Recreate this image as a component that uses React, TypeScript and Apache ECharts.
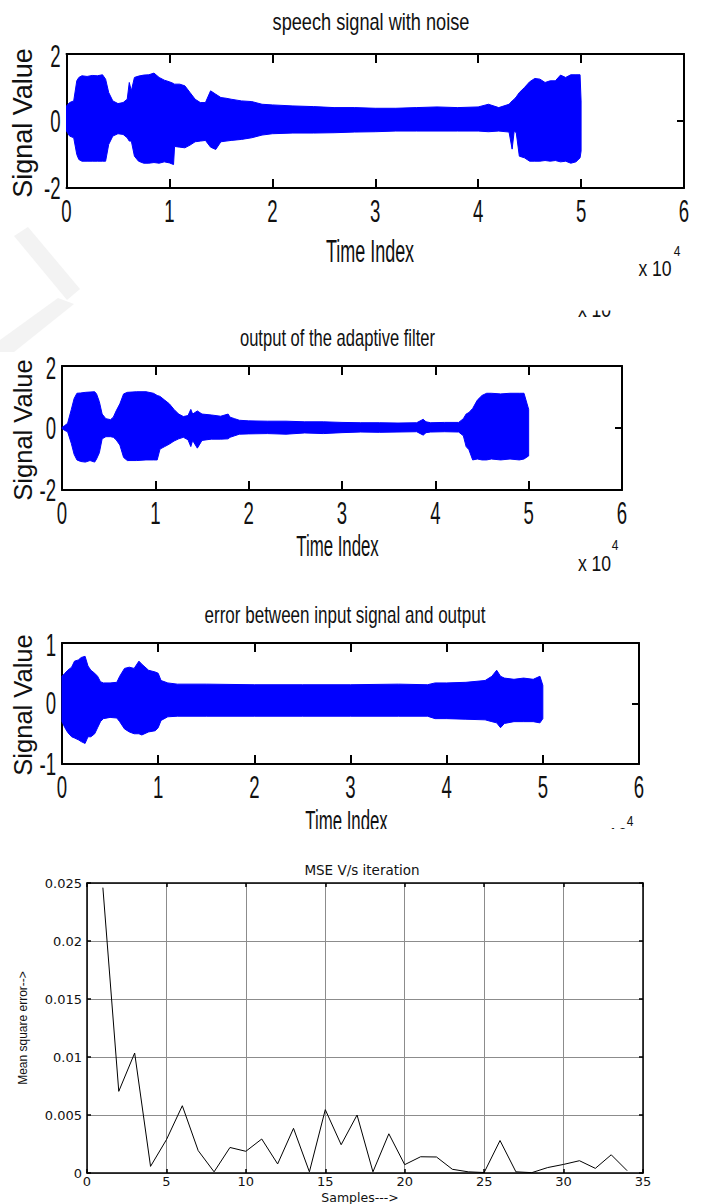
import React, { useEffect, useRef } from 'react';
import * as echarts from 'echarts';

// ---------- data (x in units of 10^4 samples) ----------
const NOISY_X = [0, 0.03, 0.07, 0.1, 0.12, 0.15, 0.2, 0.25, 0.3, 0.35, 0.38, 0.41, 0.45, 0.5, 0.55, 0.59, 0.61, 0.63, 0.66, 0.7, 0.75, 0.8, 0.85, 0.9, 0.95, 1.0, 1.04, 1.05, 1.1, 1.15, 1.2, 1.25, 1.3, 1.35, 1.4, 1.45, 1.5, 1.55, 1.6, 1.7, 1.8, 1.9, 2.0, 2.2, 2.4, 2.6, 2.8, 3.0, 3.2, 3.4, 3.6, 3.8, 4.0, 4.1, 4.2, 4.3, 4.33, 4.35, 4.37, 4.4, 4.45, 4.5, 4.55, 4.6, 4.65, 4.7, 4.75, 4.8, 4.85, 4.9, 4.95, 4.99, 5.0];
const NOISY_UP = [0.45, 0.55, 0.6, 1.2, 1.3, 1.35, 1.33, 1.36, 1.35, 1.38, 1.25, 0.85, 0.6, 0.52, 0.55, 0.65, 1.15, 0.9, 1.3, 1.34, 1.37, 1.38, 1.43, 1.3, 1.22, 1.17, 1.12, 1.1, 1.1, 1.05, 0.85, 0.65, 0.55, 0.55, 0.9, 0.8, 0.7, 0.68, 0.65, 0.6, 0.58, 0.5, 0.48, 0.45, 0.43, 0.4, 0.4, 0.38, 0.38, 0.4, 0.42, 0.4, 0.42, 0.5, 0.4, 0.5, 0.6, 0.65, 0.72, 0.85, 1.0, 1.17, 1.27, 1.25, 1.15, 1.2, 1.2, 1.37, 1.3, 1.38, 1.38, 1.38, 0.6];
const NOISY_LO = [-0.3, -0.45, -0.5, -1.0, -1.15, -1.2, -1.2, -1.2, -1.2, -1.2, -1.2, -0.7, -0.45, -0.38, -0.4, -0.5, -0.6, -0.6, -1.05, -1.2, -1.26, -1.26, -1.24, -1.26, -1.22, -1.25, -1.3, -0.76, -0.78, -0.8, -0.72, -0.62, -0.6, -0.58, -0.78, -0.85, -0.62, -0.6, -0.58, -0.55, -0.5, -0.42, -0.38, -0.36, -0.36, -0.35, -0.33, -0.32, -0.3, -0.3, -0.3, -0.3, -0.3, -0.32, -0.3, -0.33, -0.84, -0.3, -0.35, -1.05, -1.1, -1.2, -1.2, -1.2, -1.18, -1.2, -1.18, -1.22, -1.2, -1.26, -1.22, -1.1, -0.9];

const OUT_X = [0, 0.03, 0.06, 0.1, 0.13, 0.16, 0.2, 0.25, 0.3, 0.35, 0.37, 0.4, 0.43, 0.47, 0.52, 0.55, 0.58, 0.62, 0.66, 0.7, 0.8, 0.9, 0.98, 1.02, 1.05, 1.1, 1.15, 1.2, 1.25, 1.3, 1.35, 1.38, 1.4, 1.45, 1.5, 1.6, 1.7, 1.78, 1.8, 1.85, 1.9, 2.0, 2.2, 2.4, 2.6, 2.8, 3.0, 3.2, 3.4, 3.6, 3.8, 3.87, 3.9, 3.95, 4.1, 4.25, 4.3, 4.33, 4.36, 4.4, 4.45, 4.5, 4.55, 4.6, 4.7, 4.8, 4.9, 4.95, 5.0];
const OUT_UP = [0.02, 0.08, 0.15, 0.6, 0.95, 1.12, 1.13, 1.15, 1.16, 1.17, 1.1, 0.85, 0.45, 0.3, 0.27, 0.35, 0.55, 0.78, 1.1, 1.15, 1.17, 1.17, 1.12, 1.05, 1.02, 0.9, 0.78, 0.6, 0.45, 0.37, 0.4, 0.6, 0.45, 0.55, 0.45, 0.42, 0.38, 0.45, 0.35, 0.3, 0.25, 0.23, 0.22, 0.22, 0.2, 0.2, 0.18, 0.17, 0.17, 0.16, 0.17, 0.28, 0.2, 0.17, 0.18, 0.18, 0.3, 0.45, 0.5, 0.63, 0.9, 1.05, 1.12, 1.12, 1.1, 1.12, 1.12, 1.12, 0.6];
const OUT_LO = [-0.02, -0.08, -0.12, -0.5, -0.85, -1.03, -1.08, -1.1, -1.05, -1.1, -1.0, -0.8, -0.35, -0.28, -0.28, -0.3, -0.38, -0.55, -0.95, -1.05, -1.05, -1.03, -1.03, -1.03, -0.68, -0.6, -0.52, -0.42, -0.35, -0.3, -0.38, -0.6, -0.4, -0.65, -0.4, -0.36, -0.36, -0.35, -0.3, -0.25, -0.2, -0.19, -0.18, -0.2, -0.16, -0.18, -0.15, -0.13, -0.14, -0.13, -0.12, -0.23, -0.15, -0.13, -0.12, -0.13, -0.25, -0.6, -0.7, -1.03, -1.0, -1.03, -1.03, -1.0, -1.03, -1.0, -1.03, -1.0, -0.9];

const ERR_X = [0, 0.03, 0.06, 0.1, 0.13, 0.17, 0.2, 0.24, 0.27, 0.3, 0.34, 0.37, 0.4, 0.43, 0.5, 0.57, 0.6, 0.65, 0.7, 0.75, 0.8, 0.83, 0.9, 0.97, 1.0, 1.03, 1.1, 1.2, 1.5, 2.0, 2.5, 3.0, 3.5, 3.8, 3.88, 4.0, 4.2, 4.4, 4.47, 4.52, 4.56, 4.6, 4.7, 4.8, 4.9, 4.97, 5.0];
const ERR_UP = [0.45, 0.5, 0.55, 0.6, 0.7, 0.72, 0.76, 0.78, 0.62, 0.55, 0.5, 0.45, 0.36, 0.34, 0.34, 0.35, 0.45, 0.58, 0.6, 0.58, 0.7, 0.65, 0.55, 0.52, 0.5, 0.38, 0.34, 0.32, 0.32, 0.31, 0.31, 0.31, 0.32, 0.31, 0.34, 0.34, 0.35, 0.38, 0.45, 0.55, 0.45, 0.42, 0.4, 0.42, 0.4, 0.45, 0.3];
const ERR_LO = [-0.3, -0.4, -0.48, -0.55, -0.57, -0.6, -0.63, -0.66, -0.55, -0.55, -0.5, -0.4, -0.3, -0.25, -0.23, -0.24, -0.3, -0.42, -0.47, -0.5, -0.5, -0.52, -0.47, -0.45, -0.4, -0.28, -0.22, -0.21, -0.21, -0.21, -0.21, -0.21, -0.21, -0.21, -0.25, -0.25, -0.26, -0.27, -0.3, -0.32, -0.4, -0.33, -0.3, -0.3, -0.3, -0.32, -0.25];

const MSE_ITER = [1, 2, 3, 4, 5, 6, 7, 8, 9, 10, 11, 12, 13, 14, 15, 16, 17, 18, 19, 20, 21, 22, 23, 24, 25, 26, 27, 28, 29, 30, 31, 32, 33, 34];
const MSE_VALUES = [0.0246, 0.00704, 0.01034, 0.00057, 0.00287, 0.0058, 0.00193, 0.0001, 0.0022, 0.00187, 0.00293, 0.00078, 0.00385, 0.0001, 0.00546, 0.00244, 0.005, 0.0001, 0.00338, 0.00072, 0.0014, 0.00138, 0.00032, 0.0001, 0.00004, 0.0028, 0.0001, 0.00003, 0.00047, 0.00074, 0.00106, 0.0004, 0.00157, 0.0002];

// tick labels of the three signal panels
const SIGNAL_X_TICKS = [0, 1, 2, 3, 4, 5, 6];
const SIGNAL_Y_TICKS = [-2, 0, 2];
const ERROR_Y_TICKS = [-1, 0, 1];

const SIGNAL_X_RANGE = [0, 6, 1];
const SIGNAL_Y_RANGE = [-2, 2, 2];
const ERROR_Y_RANGE = [-1, 1, 1];
const MSE_X_RANGE = [0, 35, 5];
const MSE_Y_RANGE = [0, 0.025, 0.005];

const TITLES = ['speech signal with noise', 'output of the adaptive filter', 'error between input signal and output', 'MSE V/s iteration'];

// ---------- helpers ----------
const SANS = "'Liberation Sans', Arial, sans-serif";
const DEJAVU = "'DejaVu Sans', sans-serif";

function band(xs: number[], up: number[], lo: number[]) {
  return (_params: any, api: any) => {
    const pts: number[][] = [];
    for (let i = 0; i < xs.length; i++) pts.push(api.coord([xs[i], up[i]]));
    for (let i = xs.length - 1; i >= 0; i--) pts.push(api.coord([xs[i], lo[i]]));
    return {
      type: 'polygon',
      shape: { points: pts },
      style: { fill: '#0000ff', stroke: '#0000ff', lineWidth: 1 },
    };
  };
}

function axesFor(g: number, xr: number[], yr: number[], o: any) {
  const line = { show: true, onZero: false, lineStyle: { color: '#000', width: o.lineW } };
  const tick = (len: number) => ({ show: true, inside: true, length: len, lineStyle: { color: '#000', width: o.lineW } });
  const split = { show: o.split, lineStyle: { color: '#8c8c8c', width: 1 } };
  const xBase = { type: 'value', gridIndex: g, min: xr[0], max: xr[1], interval: xr[2], axisLine: line };
  const yBase = { type: 'value', gridIndex: g, min: yr[0], max: yr[1], interval: yr[2], axisLine: line };
  return {
    x: [
      { ...xBase, position: 'bottom', axisTick: tick(o.xTick), axisLabel: o.label ? { ...o.label, margin: o.xMargin } : { show: false }, splitLine: split },
      { ...xBase, position: 'top', axisTick: tick(o.xTick), axisLabel: { show: false }, splitLine: { show: false } },
    ],
    y: [
      { ...yBase, position: 'left', axisTick: tick(o.yTick), axisLabel: o.label ? { ...o.label, margin: o.yMargin } : { show: false }, splitLine: split },
      { ...yBase, position: 'right', axisTick: tick(o.yTick), axisLabel: { show: false }, splitLine: { show: false } },
    ],
  };
}

function txt(text: string, x: number, y: number, size: number, family: string, extra: any = {}, align = 'center') {
  return {
    type: 'text',
    x,
    y,
    z: 50,
    ...extra,
    style: {
      text,
      fontSize: size,
      fontFamily: family,
      fill: '#111',
      align,
      verticalAlign: 'middle',
      textAlign: align,
      textVerticalAlign: 'middle',
    },
  };
}

export default function App() {
  const ref = useRef<HTMLDivElement>(null);
  useEffect(() => {
    if (!ref.current) return;
    const chart = echarts.init(ref.current, null, { renderer: 'svg' });

    const topOpts = { lineW: 2, split: false, xTick: 9, yTick: 7, label: null };
    const a1 = axesFor(0, SIGNAL_X_RANGE, SIGNAL_Y_RANGE, topOpts);
    const a2 = axesFor(1, SIGNAL_X_RANGE, SIGNAL_Y_RANGE, topOpts);
    const a3 = axesFor(2, SIGNAL_X_RANGE, ERROR_Y_RANGE, topOpts);
    const a4 = axesFor(3, MSE_X_RANGE, MSE_Y_RANGE, {
      lineW: 1.5,
      split: true,
      xTick: 4,
      yTick: 4,
      xMargin: 2,
      yMargin: 5,
      label: { fontFamily: DEJAVU, fontSize: 13, color: '#111' },
    });

    const R = Math.PI / 2;
    const graphics: any[] = [
      // faint watermark
      { type: 'polygon', z: 1, shape: { points: [[14, 236], [28, 227], [80, 289], [67, 300]] }, style: { fill: '#f3f3f3' } },
      { type: 'polygon', z: 1, shape: { points: [[58, 298], [74, 304], [14, 352], [0, 352], [0, 340]] }, style: { fill: '#f3f3f3' } },
      // titles
      txt(TITLES[0], 371, 22, 23, SANS, { scaleX: 0.79 }),
      txt(TITLES[1], 337.5, 338, 23, SANS, { scaleX: 0.72 }),
      txt(TITLES[2], 345, 615, 23, SANS, { scaleX: 0.74 }),
      txt(TITLES[3], 362, 870, 13.5, DEJAVU),
      // x axis names
      txt('Time Index', 370, 251, 31, SANS, { scaleX: 0.58 }),
      txt('Time Index', 337.5, 546, 30, SANS, { scaleX: 0.56 }),
      txt('Time Index', 346.5, 821, 30, SANS, { scaleX: 0.56 }),
      txt('Samples--->', 360, 1197, 12.5, DEJAVU),
      // y axis names
      txt('Signal Value', 23, 123, 27, SANS, { rotation: R }),
      txt('Signal Value', 23, 430, 25.5, SANS, { rotation: R }),
      txt('Signal Value', 23, 705, 25.5, SANS, { rotation: R }),
      txt('Mean square error-->', 23, 1028, 12, SANS, { rotation: R }),
      // exponents
      txt('x 10', 655, 268, 22, SANS, { scaleX: 0.8 }),
      txt('4', 677, 251, 15, SANS, { scaleX: 0.8 }),
      txt('x 10', 594.5, 563, 22, SANS, { scaleX: 0.8 }),
      txt('4', 615, 545, 15, SANS, { scaleX: 0.8 }),
      txt('x 10', 594.5, 309, 22, SANS, { scaleX: 0.8 }),
      txt('x 10', 611, 835, 22, SANS, { scaleX: 0.8 }),
      txt('4', 630, 821, 15, SANS, { scaleX: 0.8 }),
      // clipping masks (the source image is cropped there)
      { type: 'rect', z: 90, shape: { x: 560, y: 290, width: 80, height: 20.5 }, style: { fill: '#fff' } },
      { type: 'rect', z: 90, shape: { x: 0, y: 829, width: 704, height: 22 }, style: { fill: '#fff' } },
    ];

    chart.setOption({
      animation: false,
      backgroundColor: '#fff',
      grid: [
        { left: 66.5, top: 54, width: 617.5, height: 134 },
        { left: 62, top: 366, width: 560, height: 124 },
        { left: 62, top: 643, width: 577, height: 121 },
        { left: 87, top: 883, width: 556, height: 290 },
      ],
      xAxis: [...a1.x, ...a2.x, ...a3.x, ...a4.x],
      yAxis: [...a1.y, ...a2.y, ...a3.y, ...a4.y],
      series: [
        { type: 'custom', xAxisIndex: 0, yAxisIndex: 0, renderItem: band(NOISY_X, NOISY_UP, NOISY_LO), data: [[0, 0]], silent: true },
        { type: 'custom', xAxisIndex: 2, yAxisIndex: 2, renderItem: band(OUT_X, OUT_UP, OUT_LO), data: [[0, 0]], silent: true },
        { type: 'custom', xAxisIndex: 4, yAxisIndex: 4, renderItem: band(ERR_X, ERR_UP, ERR_LO), data: [[0, 0]], silent: true },
        {
          type: 'line',
          xAxisIndex: 6,
          yAxisIndex: 6,
          data: MSE_ITER.map((x, i) => [x, MSE_VALUES[i]]),
          symbol: 'none',
          lineStyle: { color: '#000', width: 1 },
          silent: true,
        },
      ],
    });

    // condensed tick labels for the three signal panels, placed with the axes' own scales
    const panels = [
      { xi: 0, yi: 0, yTicks: SIGNAL_Y_TICKS },
      { xi: 2, yi: 2, yTicks: SIGNAL_Y_TICKS },
      { xi: 4, yi: 4, yTicks: ERROR_Y_TICKS },
    ];
    const tickTexts: any[] = [];
    panels.forEach((p) => {
      const yBottom = chart.convertToPixel({ yAxisIndex: p.yi }, p.yTicks[0]) as number;
      const xLeft = chart.convertToPixel({ xAxisIndex: p.xi }, SIGNAL_X_TICKS[0]) as number;
      SIGNAL_X_TICKS.forEach((v) => {
        const px = chart.convertToPixel({ xAxisIndex: p.xi }, v) as number;
        tickTexts.push(txt(String(v), px, yBottom + 23, 31, SANS, { scaleX: 0.6 }));
      });
      p.yTicks.forEach((v) => {
        const py = chart.convertToPixel({ yAxisIndex: p.yi }, v) as number;
        tickTexts.push(txt(String(v), xLeft - 6, py + (v === p.yTicks[p.yTicks.length - 1] ? 2 : 0), 31, SANS, { scaleX: 0.6 }, 'right'));
      });
    });

    chart.setOption({ graphic: [...graphics, ...tickTexts] });
    return () => chart.dispose();
  }, []);
  return <div ref={ref} style={{ position: 'absolute', left: 0, top: 0, width: 704, height: 1204 }} />;
}
